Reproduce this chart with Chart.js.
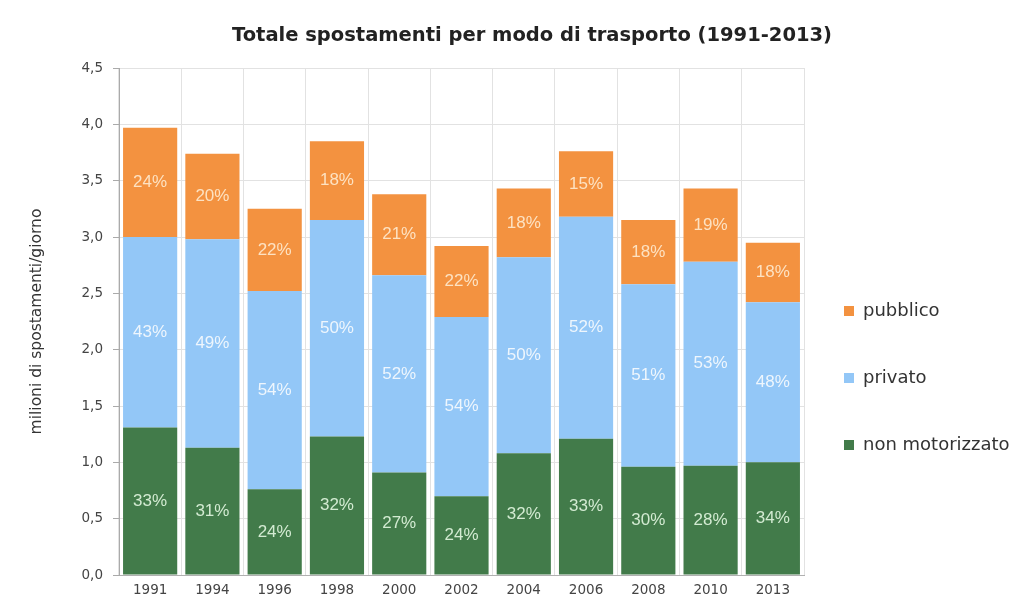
<!DOCTYPE html>
<html>
<head>
<meta charset="utf-8">
<script src="https://cdn.jsdelivr.net/npm/chart.js@4.4.1/dist/chart.umd.min.js"></script>
<style>
  body { margin: 0; background: #fff; }
  #wrap { position: relative; width: 1014px; height: 601px; }
  #title {
    position: absolute; left: 532px; top: 23px; transform: translateX(-50%);
    font: bold 19.5px "DejaVu Sans", sans-serif; color: #222; white-space: nowrap;
  }
</style>
</head>
<body>
<div id="wrap">
  <canvas id="chart" width="1014" height="601"></canvas>
  <div id="title">Totale spostamenti per modo di trasporto (1991-2013)</div>
</div>
<script>
// Data (milioni di spostamenti/giorno)
const years = ['1991', '1994', '1996', '1998', '2000', '2002', '2004', '2006', '2008', '2010', '2013'];
const nonMotorizzato = [1.31, 1.13, 0.76, 1.23, 0.91, 0.70, 1.08, 1.21, 0.96, 0.97, 1.00];
const privato = [1.69, 1.85, 1.76, 1.92, 1.75, 1.59, 1.74, 1.97, 1.62, 1.81, 1.42];
const pubblico = [0.97, 0.76, 0.73, 0.70, 0.72, 0.63, 0.61, 0.58, 0.57, 0.65, 0.53];

// percent labels shown on each segment
const pctNonMotorizzato = [33, 31, 24, 32, 27, 24, 32, 33, 30, 28, 34];
const pctPrivato = [43, 49, 54, 50, 52, 54, 50, 52, 51, 53, 48];
const pctPubblico = [24, 20, 22, 18, 21, 22, 18, 15, 18, 19, 18];

const ticksFont = { family: '"DejaVu Sans", sans-serif', size: 13.5 };

// draw the % inside each bar segment
const pctLabels = {
    id: 'pctLabels',
    afterDatasetsDraw(chart) {
        const ctx = chart.ctx;
        ctx.save();
        ctx.font = '17px "Liberation Sans", Arial, sans-serif';
        ctx.textAlign = 'center';
        ctx.textBaseline = 'middle';
        chart.data.datasets.forEach((ds, i) => {
            const meta = chart.getDatasetMeta(i);
            ctx.fillStyle = ds.labelColor;
            meta.data.forEach((bar, j) => {
                ctx.fillText(ds.pct[j] + '%', bar.x, (bar.y + bar.base) / 2);
            });
        });
        ctx.restore();
    }
};

const ctx = document.getElementById('chart').getContext('2d');
const chart = new Chart(ctx, {
    type: 'bar',
    data: {
        labels: years,
        datasets: [
            {
                label: 'non motorizzato',
                data: nonMotorizzato,
                pct: pctNonMotorizzato,
                backgroundColor: '#427b4a',
                labelColor: '#d3ebd2',
                borderWidth: 0
            },
            {
                label: 'privato',
                data: privato,
                pct: pctPrivato,
                backgroundColor: '#93c7f7',
                labelColor: '#eef6fd',
                borderWidth: 0
            },
            {
                label: 'pubblico',
                data: pubblico,
                pct: pctPubblico,
                backgroundColor: '#f39240',
                labelColor: '#fde2c2',
                borderWidth: 0
            }
        ]
    },
    options: {
        responsive: false,
        animation: false,
        layout: { padding: { top: 68, bottom: 3, left: 0, right: 0 } },
        datasets: { bar: { categoryPercentage: 0.87, barPercentage: 1 } },
        plugins: {
            title: { display: false },
            tooltip: { enabled: false },
            legend: {
                position: 'right',
                reverse: true,
                maxWidth: 210,
                title: { display: true, text: ' ', font: { size: 10, lineHeight: 1 }, padding: { top: 89, bottom: 0 } },
                labels: {
                    boxWidth: 10,
                    boxHeight: 10,
                    padding: 40,
                    color: '#333',
                    font: { family: '"DejaVu Sans", sans-serif', size: 18, lineHeight: 1.5 },
                    generateLabels(c) {
                        // wrap text in an array so the font lineHeight sets the row height
                        const items = Chart.defaults.plugins.legend.labels.generateLabels(c);
                        items.forEach(it => { it.text = [it.text]; });
                        return items;
                    }
                }
            }
        },
        scales: {
            x: {
                stacked: true,
                afterFit: (s) => { s.height = 23; },
                grid: { color: '#e2e2e2', drawTicks: false },
                border: { color: '#b0b0b0' },
                ticks: { color: '#444', font: ticksFont, padding: 7 }
            },
            y: {
                stacked: true,
                min: 0,
                max: 4.5,
                afterFit: (s) => { s.width = 119; },
                grid: { color: '#e2e2e2', tickColor: '#aaa', tickLength: 6 },
                border: { color: '#aaa' },
                ticks: {
                    stepSize: 0.5,
                    padding: 10,
                    color: '#444',
                    font: ticksFont,
                    callback: v => v.toFixed(1).replace('.', ',')
                },
                title: {
                    display: true,
                    text: 'milioni di spostamenti/giorno',
                    color: '#333',
                    font: { family: '"DejaVu Sans", sans-serif', size: 15.5 },
                    padding: { top: 28, bottom: 0 }
                }
            }
        }
    },
    plugins: [pctLabels]
});
</script>
</body>
</html>
